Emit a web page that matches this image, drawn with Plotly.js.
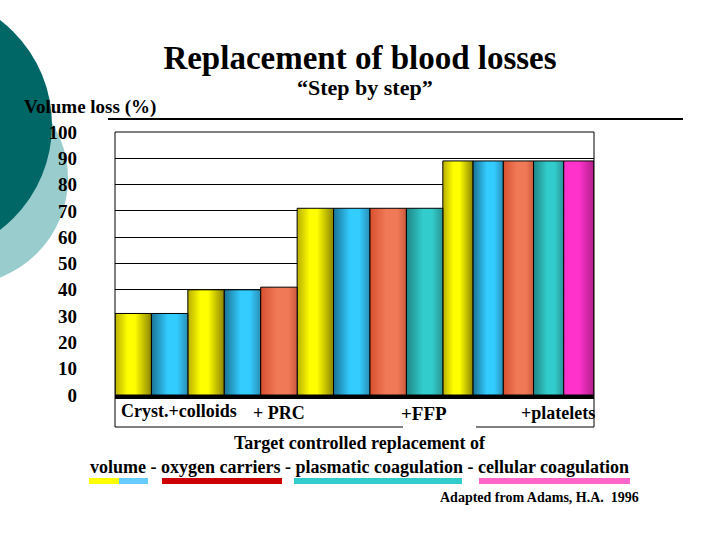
<!DOCTYPE html>
<html>
<head>
<meta charset="utf-8">
<script src="https://cdn.plot.ly/plotly-3.0.1.min.js"></script>
<style>html,body{margin:0;padding:0;background:#fff;}#chart{width:720px;height:540px;}</style>
</head>
<body>
<div id="chart"></div>
<script>
// ---------- data ----------
const steps = ["Cryst.+colloids", "+ PRC", "+FFP", "+platelets"];
const components = ["Crystalloids", "Colloids", "PRC", "FFP", "Platelets"];
const barComponent = ["Crystalloids","Colloids",
                      "Crystalloids","Colloids","PRC",
                      "Crystalloids","Colloids","PRC","FFP",
                      "Crystalloids","Colloids","PRC","FFP","Platelets"];
const barStep = [0,0, 1,1,1, 2,2,2,2, 3,3,3,3,3];
const volumeLoss = [31,31, 40,40,41, 71,71,71,71, 89,89,89,89,89];
const yTicks = [0,10,20,30,40,50,60,70,80,90,100];
const targets = ["volume", "oxygen carriers", "plasmatic coagulation", "cellular coagulation"];

// ---------- style ----------
const stepBarWidth = [1, 1, 1, 0.83];
const compColor = {Crystalloids:"#ffff00", Colloids:"#33ccff", PRC:"#ee6644", FFP:"#33cccc", Platelets:"#ff33cc"};
const compGrad = {
  Crystalloids: [[0,"#b8ae00"],[0.35,"#ffff00"],[0.55,"#ffff00"],[1,"#8c8500"]],
  Colloids:     [[0,"#1a7396"],[0.45,"#33ccff"],[0.7,"#33ccff"],[1,"#2a8fb5"]],
  PRC:          [[0,"#d8502e"],[0.45,"#f07a58"],[0.75,"#f07a58"],[1,"#cc5a3c"]],
  FFP:          [[0,"#1f8585"],[0.45,"#33cccc"],[0.7,"#33cccc"],[1,"#2a9494"]],
  Platelets:    [[0,"#ff33cc"],[0.5,"#ff33cc"],[1,"#b01f8a"]]
};
const SERIF = "Liberation Serif, Times New Roman, serif";

// bar positions from widths
const centers = [], widths = [];
let acc = 0;
for (let i = 0; i < volumeLoss.length; i++) {
  const w = stepBarWidth[barStep[i]];
  centers.push(acc + w / 2); widths.push(w); acc += w;
}
const xMax = acc;

const traces = components.map(c => {
  const idx = barComponent.map((b, i) => b === c ? i : -1).filter(i => i >= 0);
  return {
    type: "bar", name: c,
    x: idx.map(i => centers[i]), y: idx.map(i => volumeLoss[i]), width: idx.map(i => widths[i]),
    marker: {color: compColor[c], line: {color: "#000", width: 1}},
    showlegend: false, hoverinfo: "skip"
  };
});

// pixel -> paper helpers (plot area 115..594 x, 132..395 y)
const L = 115, R = 594, T = 132, B = 395;
const px = x => (x - L) / (R - L);
const py = y => (B - y) / (B - T);

const shapes = [
  {type:"circle", xref:"paper", yref:"paper", x0:px(-147), x1:px(68), y0:py(285), y1:py(72), fillcolor:"#99cccc", line:{width:0}, layer:"below"},
  {type:"circle", xref:"paper", yref:"paper", x0:px(-212), x1:px(52), y0:py(257), y1:py(-7), fillcolor:"#006666", line:{width:0}, layer:"below"},
  // line under header
  {type:"line", xref:"paper", yref:"paper", x0:px(108), x1:px(683), y0:py(119), y1:py(119), line:{color:"#000", width:2}},
  // frame
  {type:"line", xref:"paper", yref:"paper", x0:px(115), x1:px(115), y0:py(132), y1:py(427), line:{color:"#000", width:1}},
  {type:"line", xref:"paper", yref:"paper", x0:px(594), x1:px(594), y0:py(132), y1:py(427), line:{color:"#000", width:1}},
  {type:"line", xref:"paper", yref:"paper", x0:px(115), x1:px(594), y0:py(132), y1:py(132), line:{color:"#000", width:1}},
  {type:"line", xref:"paper", yref:"paper", x0:px(115), x1:px(403), y0:py(427), y1:py(427), line:{color:"#000", width:1}},
  {type:"line", xref:"paper", yref:"paper", x0:px(476), x1:px(594), y0:py(427), y1:py(427), line:{color:"#000", width:1}},
  // target colour bars
  {type:"rect", xref:"paper", yref:"paper", x0:px(89), x1:px(119), y0:py(484), y1:py(478), fillcolor:"#ffff00", line:{width:0}},
  {type:"rect", xref:"paper", yref:"paper", x0:px(119), x1:px(148), y0:py(484), y1:py(478), fillcolor:"#66ccff", line:{width:0}},
  {type:"rect", xref:"paper", yref:"paper", x0:px(162), x1:px(282), y0:py(484), y1:py(478), fillcolor:"#cc0000", line:{width:0}},
  {type:"rect", xref:"paper", yref:"paper", x0:px(294), x1:px(462), y0:py(484), y1:py(478), fillcolor:"#33cccc", line:{width:0}},
  {type:"rect", xref:"paper", yref:"paper", x0:px(479), x1:px(630), y0:py(484), y1:py(478), fillcolor:"#ff66cc", line:{width:0}}
];

const ann = (text, x, y, size, xanchor) => ({
  text, xref:"paper", yref:"paper", x:px(x), y:py(y), xanchor: xanchor || "center", yanchor:"middle",
  showarrow:false, font:{family:SERIF, size, color:"#000", weight:"bold"}
});

const annotations = [
  ann("\u201cStep by step\u201d", 365, 88, 22),
  ann("Volume loss (%)", 22, 107, 19, "left"),
  ann(steps[0], 119, 411, 18, "left"),
  ann(steps[1], 251, 413, 18, "left"),
  ann(steps[2], 399, 413, 19, "left"),
  ann(steps[3], 519, 413, 18, "left"),
  ann("Target controlled replacement of", 360, 443, 18),
  ann(targets.join(" - "), 359, 467, 18),
  ann("Adapted from Adams, H.A.  1996", 539, 497, 14)
];

const layout = {
  width: 720, height: 540, autosize: false,
  paper_bgcolor: "#fff", plot_bgcolor: "rgba(0,0,0,0)",
  margin: {l: L, r: 720 - R, t: T, b: 540 - B, pad: 0},
  title: {text: "Replacement of blood losses", x: 0.5, xanchor: "center", y: 1 - 57/540, yanchor: "middle",
          font: {family: SERIF, size: 33, color: "#000", weight: "bold"}},
  barmode: "overlay", bargap: 0,
  xaxis: {range: [0, xMax], showgrid: false, zeroline: false, showticklabels: false, ticks: "",
          showline: true, linecolor: "#000", linewidth: 4, fixedrange: true},
  yaxis: {range: [0, 100], tickvals: yTicks, ticktext: yTicks.map(String), showgrid: true, gridcolor: "#000", gridwidth: 1,
          zeroline: false, showline: false, ticks: "", ticklabelstandoff: 37,
          tickfont: {family: SERIF, size: 19, color: "#000", weight: "bold"}, fixedrange: true},
  shapes, annotations
};

Plotly.newPlot("chart", traces, layout, {staticPlot: true, displayModeBar: false}).then(gd => {
  const svg = gd.querySelector(".main-svg");
  let defs = svg.querySelector("defs");
  const NS = "http://www.w3.org/2000/svg";
  components.forEach((c, k) => {
    const g = document.createElementNS(NS, "linearGradient");
    g.setAttribute("id", "grad-" + k);
    g.setAttribute("x1", "0"); g.setAttribute("x2", "1"); g.setAttribute("y1", "0"); g.setAttribute("y2", "0");
    compGrad[c].forEach(([o, col]) => {
      const s = document.createElementNS(NS, "stop");
      s.setAttribute("offset", o); s.setAttribute("stop-color", col);
      g.appendChild(s);
    });
    defs.appendChild(g);
  });
  gd.querySelectorAll(".barlayer .trace.bars").forEach((t, k) => {
    t.querySelectorAll("path").forEach(p => { p.style.fill = "url(#grad-" + k + ")"; });
  });
});
</script>
</body>
</html>
